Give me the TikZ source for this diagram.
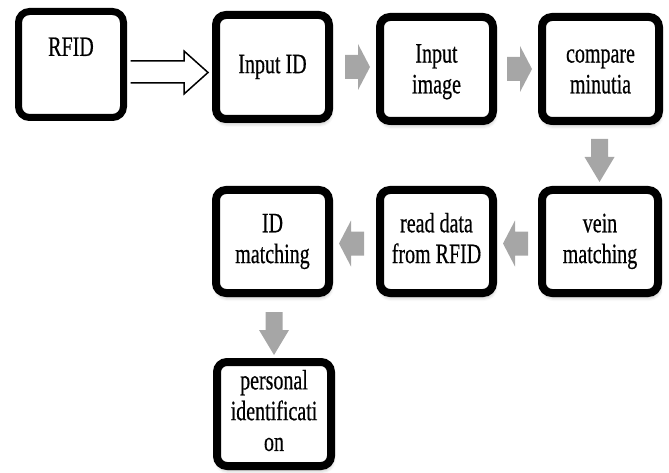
\documentclass[tikz,border=0pt]{standalone}
\usepackage{fontspec}
\setmainfont{Liberation Serif}
\newfontfamily\lblfont{Liberation Serif}[FakeBold=0.6]
\usetikzlibrary{calc,shadows.blur}
\definecolor{arrowgray}{RGB}{166,166,166}
\newcommand\boxtext[1]{\scalebox{1}[1.4]{\lblfont\fontsize{20}{22}\selectfont\begin{tabular}{@{}c@{}}#1\end{tabular}}}
% block arrow outlines (in local coordinates, y pointing down)
\newcommand\harrowpath{(0,-12) -- (13,-12) -- (13,-23) -- (25,0) -- (13,23) -- (13,12) -- (0,12) -- cycle}
\newcommand\varrowpath{(-8.5,0) -- (-8.5,18) -- (-15,18) -- (0,43) -- (15,18) -- (8.5,18) -- (8.5,0) -- cycle}
\begin{document}
\begin{tikzpicture}[x=1pt,y=-1pt,
  box/.style={draw=black, line width=8pt, rounded corners=10pt, fill=white,
    inner sep=0pt, minimum width=113pt, minimum height=104pt,
    blur shadow={shadow xshift=1pt, shadow yshift=-4pt, shadow blur radius=4pt, shadow opacity=35}},
  rfidbox/.style={draw=black, line width=7pt, rounded corners=11pt, fill=white,
    inner sep=0pt, minimum width=105pt, minimum height=106pt},
  garrow/.style={fill=arrowgray},
  hollow/.style={draw=black, line width=1.5pt, fill=white, line join=miter}]
\useasboundingbox (0,0) rectangle (669,473);

\node[rfidbox, text height=22pt, text depth=37pt] (rfid) at (71,64.5) {\boxtext{RFID}};
\node[box] (inputid) at (272.5,67) {\boxtext{Input ID}};
\node[box, text depth=18pt] (inputimg) at (436.5,69) {\boxtext{Input\\image}};
\node[box, minimum width=117pt, text depth=18pt] (compare) at (600.5,69) {\boxtext{compare\\minutia}};
\node[box, minimum width=116pt, minimum height=103pt] (vein) at (600,241.5) {\boxtext{vein\\matching}};
\node[box, minimum height=103pt] (read) at (436.5,241.5) {\boxtext{read data\\from RFID}};
\node[box, minimum height=103pt] (idm) at (272.5,241.5) {\boxtext{ID\\matching}};
\node[box, minimum width=114pt] (pers) at (274,414) {\boxtext{personal\\identificati\\on}};

% hollow arrow RFID -> Input ID
\draw[hollow] ($(rfid.east)+(3.5,-3.5)$) -- ($(rfid.east -| inputid.west)+(-28,-3.5)$)
  -- ($(rfid.east -| inputid.west)+(-28,-13.5)$) -- ($(rfid.east -| inputid.west)+(-4,8)$)
  -- ($(rfid.east -| inputid.west)+(-28,29.5)$) -- ($(rfid.east -| inputid.west)+(-28,18.5)$)
  -- ($(rfid.east)+(3.5,18.5)$);

% gray block arrows
\fill[garrow, shift={($(inputid.east)+(12,0)$)}] \harrowpath;
\fill[garrow, shift={($(inputimg.east)+(10,0)$)}] \harrowpath;
\fill[garrow, shift={($(compare.south)+(-1,14)$)}] \varrowpath;
\fill[garrow, shift={($(vein.west)+(-10,2)$)}, xscale=-1] \harrowpath;
\fill[garrow, shift={($(read.west)+(-12,2)$)}, xscale=-1] \harrowpath;
\fill[garrow, shift={($(idm.south)+(1.5,15)$)}] \varrowpath;
\end{tikzpicture}
\end{document}
